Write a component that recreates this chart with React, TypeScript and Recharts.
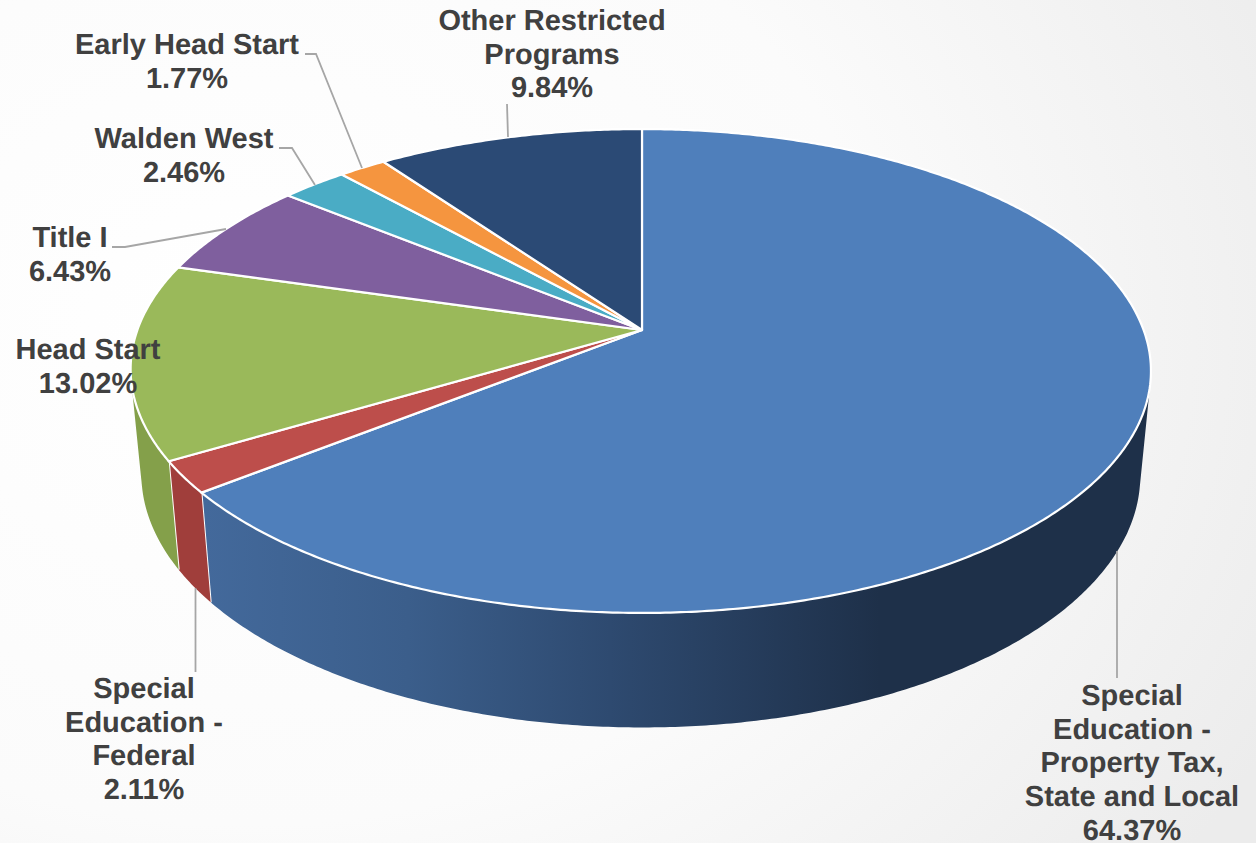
import React from "react";
import { PieChart, Pie } from "recharts";

// Budget shares by funding source, clockwise from twelve o'clock.
const categories = [
  "Special Education - Property Tax, State and Local",
  "Special Education - Federal",
  "Head Start",
  "Title I",
  "Walden West",
  "Early Head Start",
  "Other Restricted Programs",
];
const shares = [64.37, 2.11, 13.02, 6.43, 2.46, 1.77, 9.84];
const labelLines = [
  ["Special", "Education -", "Property Tax,", "State and Local", "64.37%"],
  ["Special", "Education -", "Federal", "2.11%"],
  ["Head Start", "13.02%"],
  ["Title I", "6.43%"],
  ["Walden West", "2.46%"],
  ["Early Head Start", "1.77%"],
  ["Other Restricted", "Programs", "9.84%"],
];
const topColors = ["#4F7FBB", "#BD4E4B", "#9AB95A", "#7F5F9E", "#4AACC5", "#F5953F", "#2B4A75"];
const wallColors = ["url(#blueWall)", "#A03E3B", "#84A04A", "#654B80", "#3B8A9E", "#C47632", "#223B5D"];

// Where each label block sits: centre x and first baseline.
const labelAnchors = [
  { x: 1132, y: 705 },
  { x: 144, y: 698 },
  { x: 88, y: 359 },
  { x: 70, y: 247 },
  { x: 184, y: 148 },
  { x: 187, y: 54 },
  { x: 552, y: 30 },
];

// Leader line polylines for each label.
const leaderPaths = [
  "M1117 551L1117 678",
  "M195.5 588L195.5 672",
  "",
  "M112 247L125 247L226 229",
  "M279 148L292 148L315 185",
  "M305 54L316 54L362 168",
  "M507 104L508 137",
];

const chartData = categories.map((name, i) => ({ name, value: shares[i], i }));

// Perspective of the tilted disc: a circle seen from above and in front.
const TILT = 0.1694;
const DEPTH_SCALE = 179.1 / 501.6;
// The left half of the disc bulges a little, most of all towards the back.
const LEFT_BULGE = 0.006;
const LEFT_BULGE_BACK = 0.0075;
// Lower rim of the disc relative to the upper rim.
const LOWER_SCALE_X = 0.979;
const LOWER_SCALE_Y = 1.04;
const LOWER_SHIFT_Y = 90;

const RAD = Math.PI / 180;

type Pt = { x: number; y: number };

function rimPoint(cx: number, cy: number, r: number, deg: number): Pt {
  const u = Math.cos(deg * RAD);
  const v = -Math.sin(deg * RAD);
  const w = 1 - TILT * v;
  const stretch = u < 0 ? 1 + LEFT_BULGE - LEFT_BULGE_BACK * v : 1;
  return { x: cx + (r * u * stretch) / w, y: (cy + r * DEPTH_SCALE * v) / w };
}

function lowerPoint(cx: number, cy: number, r: number, deg: number): Pt {
  const p = rimPoint(cx, cy, r, deg);
  return { x: cx + (p.x - cx) * LOWER_SCALE_X, y: p.y * LOWER_SCALE_Y + LOWER_SHIFT_Y };
}

function arcAngles(start: number, end: number) {
  const n = Math.max(2, Math.ceil(Math.abs(end - start) * 2));
  return Array.from({ length: n + 1 }, (_, k) => start + ((end - start) * k) / n);
}

function toPath(points: Pt[]) {
  return points.map((p, k) => `${k ? "L" : "M"}${p.x.toFixed(2)} ${p.y.toFixed(2)}`).join("");
}

function signedArea(q: Pt[]) {
  let a = 0;
  q.forEach((p, k) => {
    const n = q[(k + 1) % q.length];
    a += p.x * n.y - n.x * p.y;
  });
  return a;
}

// The wall folds over at the disc's silhouette, so every small quad is wound
// the same way and the non-zero fill takes their union.
function wallPath(upper: Pt[], lower: Pt[]) {
  let d = "";
  for (let k = 0; k < upper.length - 1; k++) {
    const quad = [upper[k], upper[k + 1], lower[k + 1], lower[k]];
    const ordered = signedArea(quad) < 0 ? [...quad].reverse() : quad;
    d += `${toPath(ordered)}Z`;
  }
  return d;
}

function TopSlice(props: any) {
  const { cx, cy, outerRadius, startAngle, endAngle, index } = props;
  const rim = arcAngles(startAngle, endAngle).map((a) => rimPoint(cx, cy, outerRadius, a));
  return (
    <path
      d={`M${cx} ${cy}${toPath(rim).replace("M", "L")}Z`}
      fill={topColors[index]}
      stroke="#FFFFFF"
      strokeWidth={2.2}
      strokeLinejoin="round"
    />
  );
}

function WallSlice(props: any) {
  const { cx, cy, outerRadius, startAngle, endAngle, index } = props;
  const angles = arcAngles(startAngle, endAngle);
  const upper = angles.map((a) => rimPoint(cx, cy, outerRadius, a));
  const lower = angles.map((a) => lowerPoint(cx, cy, outerRadius, a));
  const side = [upper[upper.length - 1], lower[lower.length - 1]];
  return (
    <g>
      <defs>
        <linearGradient id="blueWall" gradientUnits="userSpaceOnUse" x1={205} y1={0} x2={880} y2={0}>
          <stop offset="0" stopColor="#43699B" />
          <stop offset="0.3" stopColor="#3B5E8B" />
          <stop offset="0.6" stopColor="#2E4A70" />
          <stop offset="1" stopColor="#1E3049" />
        </linearGradient>
      </defs>
      <path d={wallPath(upper, lower)} fill={wallColors[index]} />
      <path d={toPath(side)} stroke="#FFFFFF" strokeWidth={2} fill="none" />
    </g>
  );
}

function SliceLabel(props: any) {
  const { index } = props;
  const anchor = labelAnchors[index];
  return (
    <text
      x={anchor.x}
      y={anchor.y}
      textAnchor="middle"
      fontFamily="'Liberation Sans', Arial, sans-serif"
      fontWeight={700}
      fontSize={29}
      fill="#404040"
      textRendering="geometricPrecision"
    >
      {labelLines[index].map((line, k) => (
        <tspan key={k} x={anchor.x} y={anchor.y + k * 33.7}>
          {line}
        </tspan>
      ))}
    </text>
  );
}

function LeaderLine(props: any) {
  const d = leaderPaths[props.index];
  return d ? <path d={d} stroke="#A6A6A6" strokeWidth={1.8} fill="none" /> : <g />;
}

export default function App() {
  return (
    <div
      style={{
        position: "absolute",
        left: 0,
        top: 0,
        width: 1256,
        height: 843,
        overflow: "hidden",
        background: "radial-gradient(ellipse 1150px 900px at 250px 330px, #FFFFFF 0%, #FBFBFB 55%, #F1F1F1 85%, #ECECEC 100%)",
      }}
    >
      <PieChart width={1256} height={843} margin={{ top: 0, right: 0, bottom: 0, left: 0 }}>
        <Pie
          data={chartData}
          dataKey="value"
          nameKey="name"
          cx={642}
          cy={330}
          outerRadius={501.6}
          startAngle={90}
          endAngle={-270}
          shape={WallSlice}
          label={false}
          labelLine={false}
          isAnimationActive={false}
        />
        <Pie
          data={chartData}
          dataKey="value"
          nameKey="name"
          cx={642}
          cy={330}
          outerRadius={501.6}
          startAngle={90}
          endAngle={-270}
          shape={TopSlice}
          label={SliceLabel}
          labelLine={LeaderLine}
          isAnimationActive={false}
        />
      </PieChart>
    </div>
  );
}
